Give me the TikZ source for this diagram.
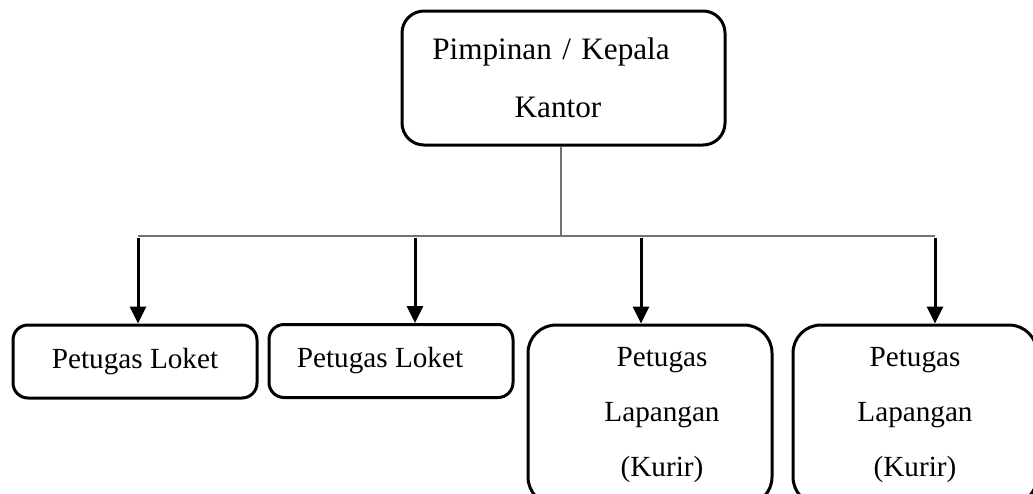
\documentclass[tikz,border=0pt]{standalone}
\usepackage{fontspec}
\setmainfont{Liberation Serif}
\usetikzlibrary{arrows.meta}
\begin{document}
\begin{tikzpicture}[x=0.5pt,y=-0.5pt,
  box/.style={draw=black,line width=1.5pt,rounded corners=7.5pt,inner sep=0pt,
    font=\fontsize{14.6pt}{27.5pt}\selectfont,align=center},
  topbox/.style={box,rounded corners=11pt,minimum width=161.5pt,minimum height=67pt,
    text width=150pt,font=\fontsize{15.6pt}{29pt}\selectfont},
  lokbox/.style={box,minimum width=122pt,minimum height=36.5pt},
  kurbox/.style={box,rounded corners=14pt,minimum width=122pt,minimum height=90pt},
  thin/.style={draw=black!55,line width=0.6pt},
  arr/.style={draw=black,line width=1.5pt,-{Triangle[length=8.5pt,width=8pt]}}]
\useasboundingbox (0,0) rectangle (1033,493);
\clip (0,0) rectangle (1033,493);
\node[topbox] (top) at (563.5,78) {\hspace*{-12.5pt}Pimpinan / Kepala\\\hspace*{-5.5pt}Kantor};
\node[lokbox] (l1) at (135,361.5) {Petugas Loket};
\node[lokbox] (l2) at (391,361) {Petugas Loket\hspace*{11pt}};
\node[kurbox] (k1) at (650,415) {\hspace*{12pt}Petugas\\\hspace*{12pt}Lapangan\\\hspace*{12pt}(Kurir)};
\node[kurbox] (k2) at (915,415) {Petugas\\Lapangan\\(Kurir)};
\coordinate (bus) at (561,236);
\coordinate (b1) at (138,236);
\coordinate (b2) at (415,236);
\coordinate (b3) at (641,236);
\coordinate (b4) at (935,236);
\draw[thin] (bus |- top.south) -- (bus);
\draw[thin] (b1) -- (b4);
\draw[arr] ([yshift=-1pt]b1) -- (b1 |- l1.north);
\draw[arr] ([yshift=-1pt]b2) -- (b2 |- l2.north);
\draw[arr] ([yshift=-1pt]b3) -- (b3 |- k1.north);
\draw[arr] ([yshift=-1pt]b4) -- (b4 |- k2.north);
\end{tikzpicture}
\end{document}
